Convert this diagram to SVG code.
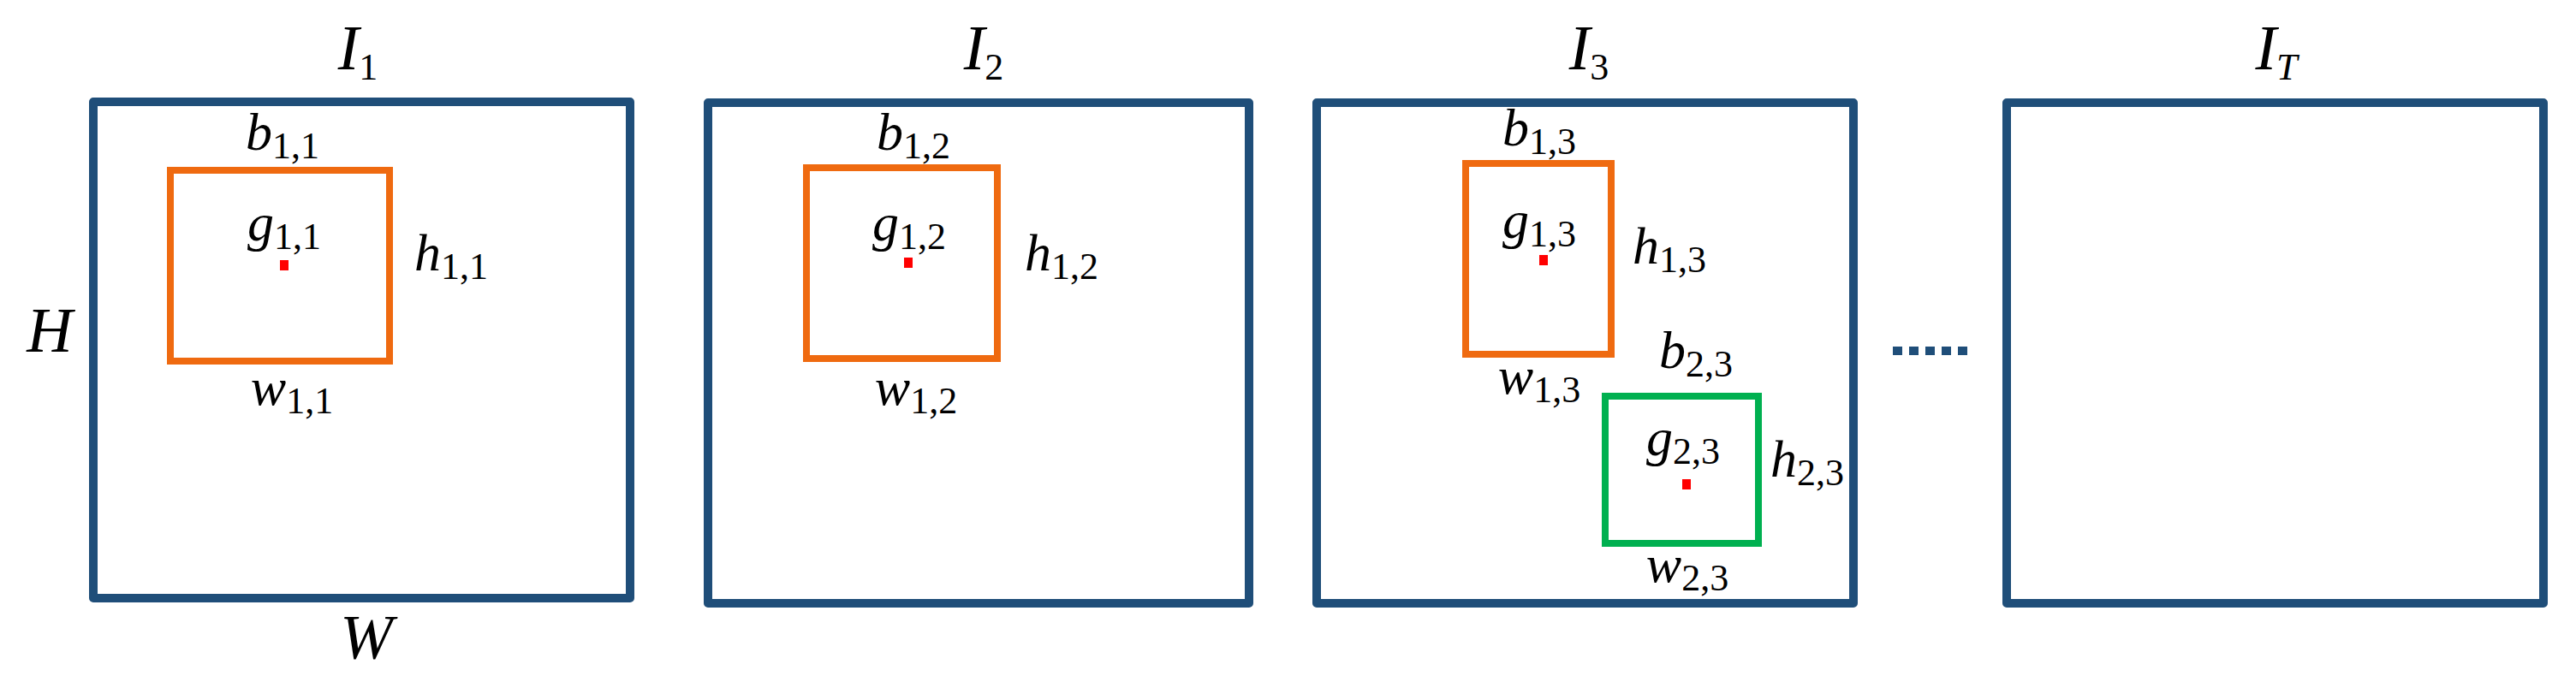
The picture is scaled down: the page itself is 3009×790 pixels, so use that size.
<svg xmlns="http://www.w3.org/2000/svg" width="3009" height="790" viewBox="0 0 3009 790" font-family="'Liberation Serif', 'Times New Roman', 'DejaVu Serif', serif">
<style>
.frame{fill:none;stroke:#1f4e79;stroke-width:10;stroke-linejoin:round}
.ob{fill:none;stroke:#ef6a10;stroke-width:8}
.gb{fill:none;stroke:#00b050;stroke-width:8}
.dot{fill:#ff0000}
text{font-family:'Liberation Serif','Times New Roman','DejaVu Serif',serif;fill:#000;text-anchor:middle}
.m{font-size:62px}
.big{font-size:74px}
.v{font-style:italic}
.s{font-size:44px}
</style>
<rect width="3009" height="790" fill="#fff"/>
<g id="frame1">
<rect class="frame" x="109" y="119" width="627" height="580"/>
<text class="big" x="418" y="81"><tspan class="v">I</tspan><tspan class="s" dy="12">1</tspan></text>
<text class="big v" x="58" y="411">H</text>
<text class="big v" x="428" y="770">W</text>
</g>
<g id="box11">
<rect class="ob" x="199" y="199" width="256" height="223"/>
<rect class="dot" x="327" y="304" width="10" height="12"/>
<text class="m" x="330" y="175"><tspan class="v">b</tspan><tspan class="s" dy="10">1,1</tspan></text>
<text class="m" x="332" y="281"><tspan class="v">g</tspan><tspan class="s" dy="10">1,1</tspan></text>
<text class="m" x="527" y="316"><tspan class="v">h</tspan><tspan class="s" dy="10">1,1</tspan></text>
<text class="m" x="341" y="473"><tspan class="v">w</tspan><tspan class="s" dy="10">1,1</tspan></text>
</g>
<g id="frame2">
<rect class="frame" x="827" y="120" width="632" height="585"/>
<text class="big" x="1149" y="81"><tspan class="v">I</tspan><tspan class="s" dy="12">2</tspan></text>
</g>
<g id="box12">
<rect class="ob" x="942" y="196" width="223" height="223"/>
<rect class="dot" x="1056" y="301" width="10" height="12"/>
<text class="m" x="1067" y="175"><tspan class="v">b</tspan><tspan class="s" dy="10">1,2</tspan></text>
<text class="m" x="1062" y="281"><tspan class="v">g</tspan><tspan class="s" dy="10">1,2</tspan></text>
<text class="m" x="1240" y="316"><tspan class="v">h</tspan><tspan class="s" dy="10">1,2</tspan></text>
<text class="m" x="1070" y="473"><tspan class="v">w</tspan><tspan class="s" dy="10">1,2</tspan></text>
</g>
<g id="frame3">
<rect class="frame" x="1538" y="120" width="627" height="585"/>
<text class="big" x="1856" y="81"><tspan class="v">I</tspan><tspan class="s" dy="12">3</tspan></text>
</g>
<g id="box13">
<rect class="ob" x="1712" y="191" width="170" height="223"/>
<rect class="dot" x="1798" y="298" width="10" height="12"/>
<text class="m" x="1798" y="170"><tspan class="v">b</tspan><tspan class="s" dy="10">1,3</tspan></text>
<text class="m" x="1798" y="278"><tspan class="v">g</tspan><tspan class="s" dy="10">1,3</tspan></text>
<text class="m" x="1950" y="308"><tspan class="v">h</tspan><tspan class="s" dy="10">1,3</tspan></text>
<text class="m" x="1798" y="460"><tspan class="v">w</tspan><tspan class="s" dy="10">1,3</tspan></text>
</g>
<g id="box23">
<rect class="gb" x="1875" y="463" width="179" height="172"/>
<rect class="dot" x="1965" y="560" width="10" height="12"/>
<text class="m" x="1981" y="430"><tspan class="v">b</tspan><tspan class="s" dy="10">2,3</tspan></text>
<text class="m" x="1966" y="532"><tspan class="v">g</tspan><tspan class="s" dy="10">2,3</tspan></text>
<text class="m" x="2111" y="557"><tspan class="v">h</tspan><tspan class="s" dy="10">2,3</tspan></text>
<text class="m" x="1971" y="680"><tspan class="v">w</tspan><tspan class="s" dy="10">2,3</tspan></text>
</g>
<g id="ellipsis">
<line x1="2211" y1="410" x2="2302" y2="410" stroke="#1f4e79" stroke-width="10" stroke-dasharray="11 8"/>
</g>
<g id="frameT">
<rect class="frame" x="2344" y="120" width="627" height="585"/>
<text class="big" x="2659" y="81"><tspan class="v">I</tspan><tspan class="s v" dy="12">T</tspan></text>
</g>
<g id="connectors"></g>
</svg>
